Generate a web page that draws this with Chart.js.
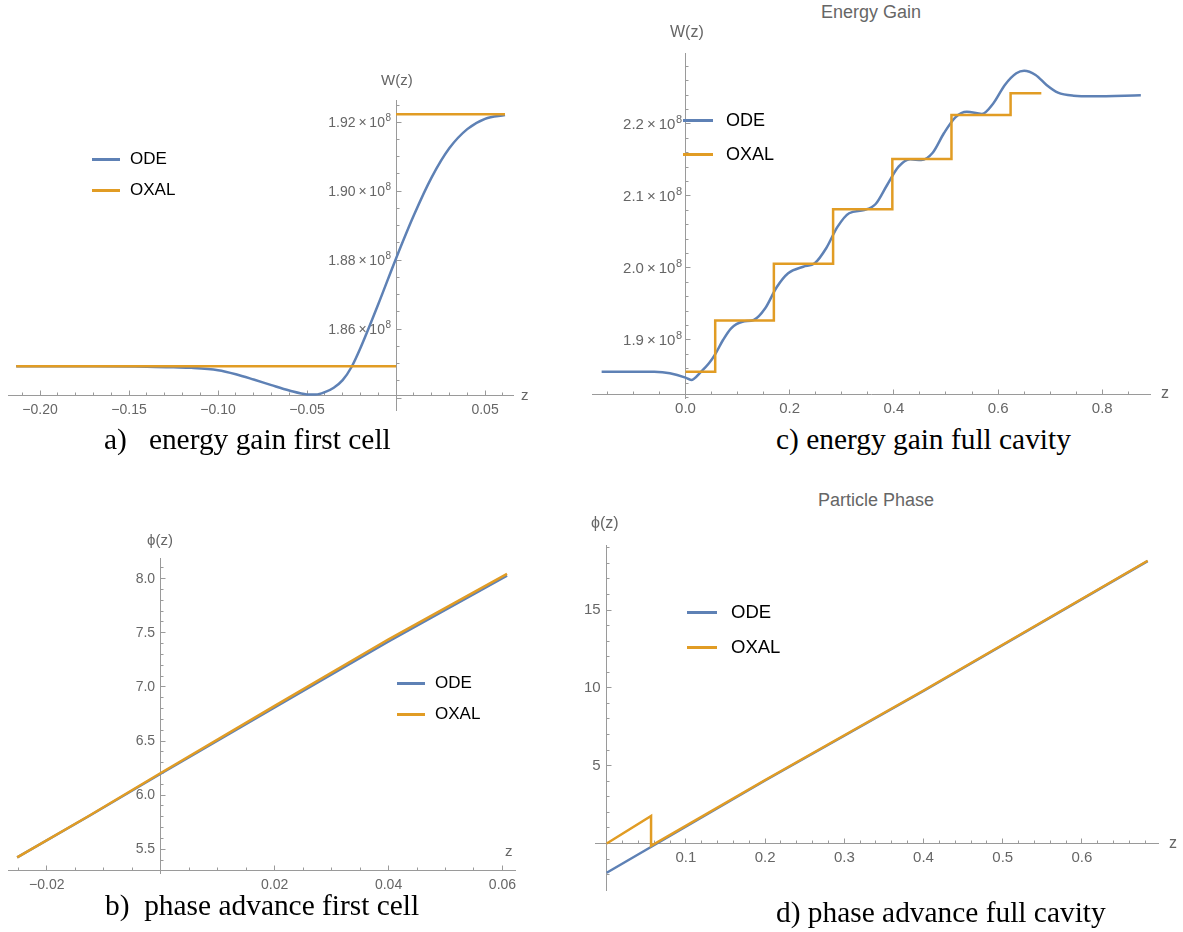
<!DOCTYPE html>
<html><head><meta charset="utf-8">
<script src="https://cdn.jsdelivr.net/npm/chart.js@4.4.0/dist/chart.umd.min.js"></script>
<style>
html,body{margin:0;padding:0;background:#fff;}
body{width:1183px;height:932px;position:relative;overflow:hidden;font-family:"Liberation Sans",Arial,sans-serif;}
canvas{position:absolute;}
.cap{position:absolute;font-family:"Liberation Serif","Times New Roman",serif;font-size:29.4px;color:#000;white-space:pre;line-height:34px;}
.ttl{position:absolute;font-size:18px;color:#666;white-space:nowrap;transform:translateX(-50%);line-height:22px;}
.lab{position:absolute;font-size:15px;color:#666;white-space:nowrap;line-height:18px;}
.lt{position:absolute;color:#000;line-height:20px;white-space:nowrap;}
.sw{position:absolute;height:3px;}
</style>
</head><body>
<script>
// ---------- data ----------
// a) energy gain first cell
const aOdeZ = [-0.2134,-0.17,-0.14,-0.125,-0.115,-0.10,-0.09,-0.08,-0.07,-0.06,-0.05,-0.045,-0.04,-0.035,-0.03,-0.025,-0.02,-0.01,0,0.01,0.02,0.03,0.04,0.05,0.0612];
const aOdeW = [1.8492e8,1.8492e8,1.8491e8,1.8489e8,1.84875e8,1.84807e8,1.8469e8,1.84536e8,1.84372e8,1.84217e8,1.84105e8,1.8410e8,1.8417e8,1.8430e8,1.8452e8,1.8490e8,1.8545e8,1.8672e8,1.8805e8,1.8930e8,1.9040e8,1.9125e8,1.9180e8,1.9210e8,1.9221e8];
const aOxalZ = [-0.2134,0,0,0,0.0612];
const aOxalW = [1.8492e8,1.8492e8,null,1.9223e8,1.9223e8];
const aXTicks = [-0.20,-0.15,-0.10,-0.05,0.05];
const aYTicks = [1.86e8,1.88e8,1.90e8,1.92e8];

// b) phase advance first cell
const bOdeZ = [-0.0252,-0.0125,0,0.02,0.04,0.0608];
const bOdePhi = [5.426,5.81,6.198,6.81,7.42,8.028];
const bOxalZ = [-0.0252,-0.0125,0,0.02,0.04,0.0608];
const bOxalPhi = [5.426,5.812,6.205,6.825,7.44,8.045];
const bXTicks = [-0.02,0.02,0.04,0.06];
const bYTicks = [5.5,6.0,6.5,7.0,7.5,8.0];

// c) energy gain full cavity
const cOdeZ = [-0.161,-0.10,-0.06,-0.03,0,0.011,0.03,0.045,0.058,0.072,0.0876,0.1095,0.131,0.153,0.175,0.197,0.226,0.248,0.270,0.292,0.314,0.343,0.365,0.387,0.409,0.431,0.4526,0.4745,0.496,0.518,0.540,0.569,0.591,0.613,0.635,0.650,0.672,0.693,0.715,0.745,0.781,0.874];
const cOdeW = [1.8560e8,1.8560e8,1.8558e8,1.8537e8,1.8477e8,1.8444e8,1.8560e8,1.8676e8,1.8815e8,1.9000e8,1.9163e8,1.9254e8,1.9278e8,1.9440e8,1.9732e8,1.9926e8,2.0018e8,2.0065e8,2.0274e8,2.0574e8,2.0760e8,2.0806e8,2.0889e8,2.1153e8,2.1407e8,2.1510e8,2.1500e8,2.1601e8,2.1871e8,2.2093e8,2.2171e8,2.2139e8,2.2288e8,2.2542e8,2.2704e8,2.2740e8,2.2681e8,2.2542e8,2.2435e8,2.2393e8,2.2385e8,2.2399e8];
const cOxalZ = [0,0.057,0.1696,0.2833,0.397,0.5105,0.624,0.683];
const cOxalW = [1.8560e8,1.9270e8,2.0060e8,2.0815e8,2.1514e8,2.2125e8,2.2426e8,2.2426e8];
const cXTicks = [0,0.2,0.4,0.6,0.8];
const cYTicks = [1.9e8,2.0e8,2.1e8,2.2e8];

// d) phase advance full cavity
const dOdeZ = [0,0.2,0.4,0.683];
const dOdePhi = [-1.88,4.05,9.8,18.14];
const dOxalZ = [0,0.056,0.056,0.2,0.4,0.683];
const dOxalPhi = [0,1.77,-0.15,4.08,9.83,18.17];
const dXTicks = [0.1,0.2,0.3,0.4,0.5,0.6];
const dYTicks = [5,10,15];

// ---------- styling ----------
const BLUE = '#5E81B5', ORANGE = '#E19C24', AXIS = '#9a9a9a', LBL = '#666666';
const FONT = '"Liberation Sans", Arial, sans-serif';
const SP = '\u2009\u2009';
const minus = (v, d) => (v < 0 ? '\u2212' : '') + Math.abs(v).toFixed(d);
const pts = (xs, ys) => xs.map((x, i) => ({x: x, y: ys[i]}));

function alignPx(p) { return Math.round(p - 0.5) + 0.5; }

const tickPlugin = {
  id: 'mmaTicks',
  beforeDatasetsDraw(chart, args, o) {
    const xs = chart.scales.x, ys = chart.scales.y, ctx = chart.ctx;
    const row = alignPx(ys.getPixelForValue(o.xAt));
    const col = alignPx(xs.getPixelForValue(o.yAt));
    const list = (min, max, minor, major, skip) => {
      const out = [];
      const k0 = Math.ceil(min / minor - 1e-9), k1 = Math.floor(max / minor + 1e-9);
      for (let k = k0; k <= k1; k++) {
        const v = k * minor;
        if (Math.abs(v - skip) < minor * 1e-3) continue;
        const r = v / major;
        out.push([v, Math.abs(r - Math.round(r)) < 1e-6]);
      }
      return out;
    };
    ctx.save();
    ctx.strokeStyle = AXIS; ctx.lineWidth = 1; ctx.beginPath();
    for (const [v, maj] of list(xs.min, xs.max, o.xMinor, o.xMajor, o.yAt)) {
      const p = alignPx(xs.getPixelForValue(v));
      ctx.moveTo(p, row); ctx.lineTo(p, row - (maj ? 5 : 3));
    }
    for (const [v, maj] of list(ys.min, ys.max, o.yMinor, o.yMajor, o.xAt)) {
      const p = alignPx(ys.getPixelForValue(v));
      ctx.moveTo(col, p); ctx.lineTo(col + (maj ? 5 : 3), p);
    }
    ctx.stroke();
    // scientific y labels (mantissa ×10 with a raised exponent), placed on the y scale's own ticks
    if (o.sci) {
      const fs = o.sci.size, es = Math.round(fs * 0.72);
      ctx.fillStyle = LBL; ctx.textBaseline = 'middle';
      ctx.font = es + 'px ' + FONT;
      const ew = ctx.measureText(o.sci.exp).width;
      for (const t of ys.ticks) {
        const p = ys.getPixelForValue(t.value);
        const xr = col - o.sci.gap - ew;
        ctx.font = fs + 'px ' + FONT; ctx.textAlign = 'right';
        ctx.fillText((t.value / o.sci.scale).toFixed(o.sci.dec) + '\u2009\u00d7\u200910', xr, p + 1);
        ctx.font = es + 'px ' + FONT; ctx.textAlign = 'left';
        ctx.fillText(o.sci.exp, xr + 0.5, p - 4);
      }
    }
    ctx.restore();
  }
};

function makeChart(c) {
  const cv = document.createElement('canvas');
  cv.width = c.w; cv.height = c.h;
  cv.style.left = c.left + 'px'; cv.style.top = c.top + 'px';
  cv.style.width = c.w + 'px'; cv.style.height = c.h + 'px';
  document.body.appendChild(cv);
  const tickFont = {family: FONT, size: c.fs};
  new Chart(cv, {
    type: 'line',
    data: {datasets: c.datasets},
    options: {
      responsive: false, animation: false, devicePixelRatio: 1,
      layout: {padding: c.pad},
      plugins: {legend: {display: false}, tooltip: {enabled: false}, mmaTicks: c.ticks},
      elements: {point: {radius: 0}, line: {borderWidth: 2.5}},
      scales: {
        x: {
          type: 'linear', min: c.xr[0], max: c.xr[1], position: {y: c.ticks.xAt},
          grid: {display: false, drawTicks: false},
          border: {display: true, color: AXIS, width: 1},
          afterBuildTicks: s => { s.ticks = c.xTicks.map(v => ({value: v})); },
          ticks: {autoSkip: false, maxRotation: 0, minRotation: 0, padding: c.xPad, color: LBL, font: tickFont, callback: c.xFmt}
        },
        y: {
          type: 'linear', min: c.yr[0], max: c.yr[1], position: {x: c.ticks.yAt},
          grid: {display: false, drawTicks: false},
          border: {display: true, color: AXIS, width: 1},
          afterBuildTicks: s => { s.ticks = c.yTicks.map(v => ({value: v})); },
          ticks: {display: !c.ticks.sci, autoSkip: false, padding: 0, color: LBL, font: tickFont, callback: c.yFmt}
        }
      }
    },
    plugins: [tickPlugin]
  });
}

function ds(label, data, color, order, extra) {
  return Object.assign({label: label, data: data, borderColor: color, backgroundColor: color, borderWidth: 2.5, pointRadius: 0, fill: false, order: order, tension: 0}, extra || {});
}

// a)
makeChart({
  left: 0, top: 80, w: 550, h: 350, pad: {left: 8, right: 37, top: 20, bottom: 20}, fs: 14,
  xr: [-0.218, 0.0657], yr: [1.83652e8, 1.92646e8],
  ticks: {xAt: 1.84087e8, yAt: 0, xMinor: 0.01, xMajor: 0.05, yMinor: 0.005e8, yMajor: 0.02e8, sci: {scale: 1e8, dec: 2, exp: '8', size: 14, gap: 6}},
  xTicks: aXTicks, yTicks: aYTicks, xPad: 7,
  xFmt: v => minus(v, 2), yFmt: v => (v / 1e8).toFixed(2) + '\u00d710\u2078' + SP,
  datasets: [
    ds('ODE', pts(aOdeZ, aOdeW), BLUE, 1, {cubicInterpolationMode: 'monotone'}),
    ds('OXAL', pts(aOxalZ, aOxalW), ORANGE, 0)
  ]
});

// b)
makeChart({
  left: 0, top: 530, w: 550, h: 365, pad: {left: 8.3, right: 35, top: 28, bottom: 22}, fs: 14,
  xr: [-0.02676, 0.0622], yr: [5.281, 8.191],
  ticks: {xAt: 5.30, yAt: 0, xMinor: 0.005, xMajor: 0.02, yMinor: 0.1, yMajor: 0.5},
  xTicks: bXTicks, yTicks: bYTicks, xPad: 6,
  xFmt: v => minus(v, 2), yFmt: v => v.toFixed(1) + SP,
  datasets: [
    ds('ODE', pts(bOdeZ, bOdePhi), BLUE, 1),
    ds('OXAL', pts(bOxalZ, bOxalPhi), ORANGE, 0)
  ]
});

// c)
makeChart({
  left: 570, top: 30, w: 613, h: 390, pad: {left: 22, right: 33, top: 23, bottom: 22}, fs: 15,
  xr: [-0.1795, 0.8916], yr: [1.81944e8, 2.29861e8],
  ticks: {xAt: 1.82431e8, yAt: 0, xMinor: 0.05, xMajor: 0.2, yMinor: 0.02e8, yMajor: 0.1e8, sci: {scale: 1e8, dec: 1, exp: '8', size: 15, gap: 4}},
  xTicks: cXTicks, yTicks: cYTicks, xPad: 5,
  xFmt: v => minus(v, 1), yFmt: v => (v / 1e8).toFixed(1) + '\u00d710\u2078' + SP,
  datasets: [
    ds('ODE', pts(cOdeZ, cOdeW), BLUE, 1, {cubicInterpolationMode: 'monotone'}),
    ds('OXAL', pts(cOxalZ, cOxalW), ORANGE, 0, {stepped: 'before'})
  ]
});

// d)
makeChart({
  left: 570, top: 520, w: 613, h: 395, pad: {left: 25.5, right: 24.8, top: 25, bottom: 25}, fs: 15,
  xr: [-0.01414, 0.6963], yr: [-2.988, 19.18],
  ticks: {xAt: 0, yAt: 0, xMinor: 0.02, xMajor: 0.1, yMinor: 1, yMajor: 5},
  xTicks: dXTicks, yTicks: dYTicks, xPad: 5,
  xFmt: v => minus(v, 1), yFmt: v => String(v) + SP,
  datasets: [
    ds('ODE', pts(dOdeZ, dOdePhi), BLUE, 1),
    ds('OXAL', pts(dOxalZ, dOxalPhi), ORANGE, 0)
  ]
});

// ---------- text overlays ----------
function addDiv(cls, text, css) {
  const d = document.createElement('div');
  d.className = cls; d.textContent = text;
  Object.assign(d.style, css);
  document.body.appendChild(d);
  return d;
}
function legend(x1, x2, y1, y2, tx, fs) {
  [[y1, BLUE, 'ODE'], [y2, ORANGE, 'OXAL']].forEach(([y, col, t]) => {
    const s = document.createElement('div');
    s.className = 'sw';
    Object.assign(s.style, {left: x1 + 'px', width: (x2 - x1) + 'px', top: (y - 1.5) + 'px', background: col});
    document.body.appendChild(s);
    addDiv('lt', t, {left: tx + 'px', top: (y - 10) + 'px', fontSize: fs + 'px'});
  });
}
legend(92, 120, 159, 190, 130, 17);
legend(397, 425, 683, 714, 435, 17);
legend(683, 713, 120, 154, 726, 18);
legend(687, 717, 612, 647, 731, 18.5);

addDiv('ttl', 'Energy Gain', {left: '871px', top: '1px'});
addDiv('ttl', 'Particle Phase', {left: '876px', top: '489px'});

addDiv('lab', 'W(z)', {left: '381px', top: '71px'});
addDiv('lab', 'W(z)', {left: '670px', top: '23px', fontSize: '16px'});
addDiv('lab', '\u03d5(z)', {left: '147px', top: '531px'});
addDiv('lab', '\u03d5(z)', {left: '591px', top: '514px', fontSize: '16px'});
addDiv('lab', 'z', {left: '521px', top: '386px'});
addDiv('lab', 'z', {left: '1161px', top: '384px', fontSize: '16px'});
addDiv('lab', 'z', {left: '505px', top: '842px'});
addDiv('lab', 'z', {left: '1169px', top: '834px', fontSize: '16px'});

addDiv('cap', 'a)   energy gain first cell', {left: '104px', top: '422px'});
addDiv('cap', 'b)  phase advance first cell', {left: '105px', top: '888px'});
addDiv('cap', 'c) energy gain full cavity', {left: '776px', top: '422px'});
addDiv('cap', 'd) phase advance full cavity', {left: '776px', top: '895px'});
</script>
</body></html>
